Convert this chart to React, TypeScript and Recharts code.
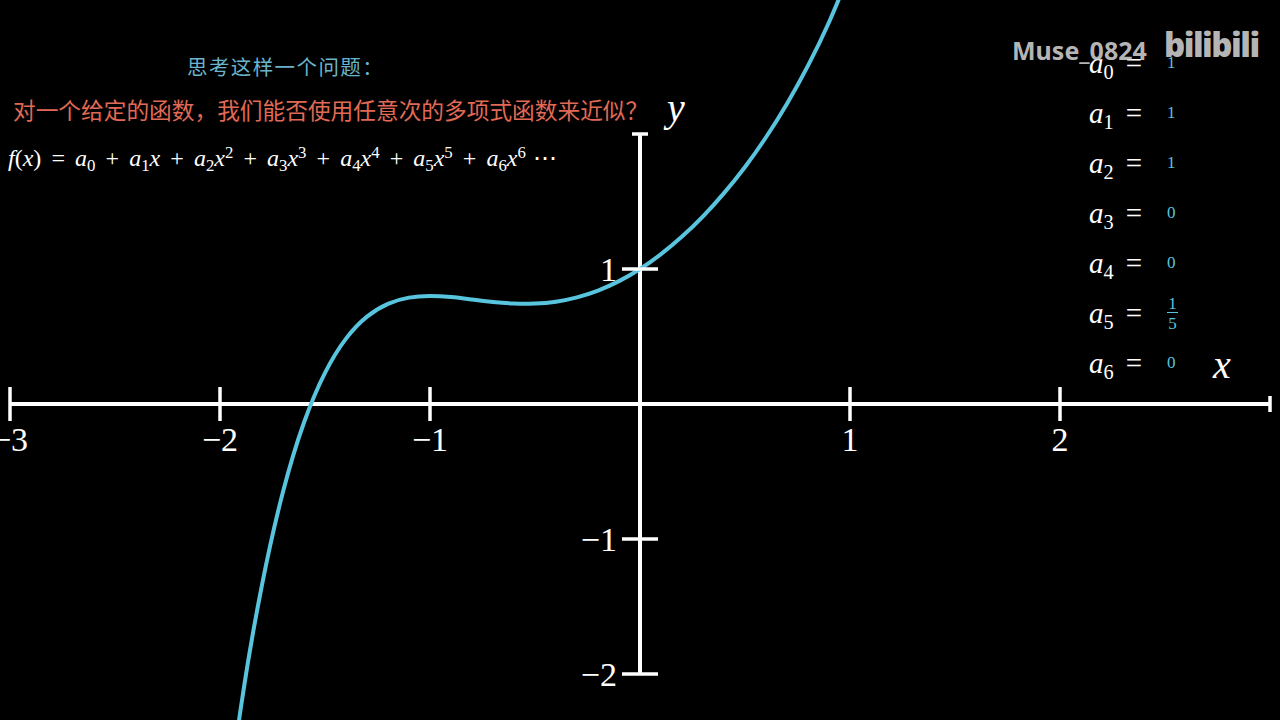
import React from 'react';
import { ComposedChart, Line, XAxis, YAxis, ReferenceLine, ReferenceDot } from 'recharts';

// Curve values (x, y)
const curveX = [-2.0, -1.9, -1.8, -1.7, -1.6, -1.5, -1.4, -1.3, -1.2, -1.1, -1.0, -0.9, -0.8, -0.7, -0.6, -0.5, -0.4, -0.3, -0.2, -0.1, 0.0, 0.1, 0.2, 0.3, 0.4, 0.5, 0.6, 0.7, 0.8, 0.9, 1.0];
const curveY = [-3.4, -2.242, -1.339, -0.650, -0.137, 0.231, 0.484, 0.647, 0.742, 0.788, 0.8, 0.792, 0.774, 0.756, 0.744, 0.744, 0.758, 0.790, 0.840, 0.910, 1.0, 1.110, 1.240, 1.390, 1.562, 1.756, 1.976, 2.224, 2.506, 2.828, 3.2];

const xTickValues = [-3, -2, -1, 1, 2];
const xTickLabels = ['\u22123', '\u22122', '\u22121', '1', '2'];
const yTickValues = [1, -1, -2];
const yTickLabels = ['1', '\u22121', '\u22122'];
const xEnd = 3;
const yEnd = 2;

const coefNames = ['0', '1', '2', '3', '4', '5', '6'];
const coefValues = ['1', '1', '1', '0', '0', '1/5', '0'];

const titleText = '思考这样一个问题：';
const questionText = '对一个给定的函数，我们能否使用任意次的多项式函数来近似？';
const watermarkText = 'Muse_0824';
const logoText = 'bilibili';

const data = curveX.map((x, i) => ({ x, y: curveY[i] }));

const W = 1280;
const H = 720;
const BLUE = '#58C4DD';
const SERIF = '"Liberation Serif", "DejaVu Serif", serif';

const XTickShape = (label: string, big: boolean) => (p: any) => {
  const { cx, cy } = p;
  const h = big ? 17 : 8;
  return (
    <g>
      <line x1={cx} x2={cx} y1={cy - h} y2={cy + h} stroke="#fff" strokeWidth={3.5} />
      {label ? (
        <text x={cx} y={cy + 47} textAnchor="middle" fill="#fff" fontSize={34} fontFamily={SERIF}>{label}</text>
      ) : null}
    </g>
  );
};

const YTickShape = (label: string, big: boolean) => (p: any) => {
  const { cx, cy } = p;
  const h = big ? 18 : 8;
  return (
    <g>
      <line x1={cx - h} x2={cx + h} y1={cy} y2={cy} stroke="#fff" strokeWidth={3.5} />
      {label ? (
        <text x={cx - 23} y={cy + 12} textAnchor="end" fill="#fff" fontSize={34} fontFamily={SERIF}>{label}</text>
      ) : null}
    </g>
  );
};

const Sub = ({ children }: { children: React.ReactNode }) => (
  <span style={{ fontSize: '0.7em', position: 'relative', top: '0.3em', fontStyle: 'normal' }}>{children}</span>
);
const Sup = ({ children }: { children: React.ReactNode }) => (
  <span style={{ fontSize: '0.7em', position: 'relative', top: '-0.45em', fontStyle: 'normal' }}>{children}</span>
);

const Formula = () => {
  const terms: React.ReactNode[] = [];
  for (let i = 0; i <= 6; i++) {
    terms.push(
      <span key={i}>
        {i > 0 ? <span style={{ margin: '0 0.42em' }}>+</span> : null}
        <i>a</i><Sub>{i}</Sub>
        {i >= 1 ? <i>x</i> : null}
        {i >= 2 ? <Sup>{i}</Sup> : null}
      </span>
    );
  }
  return (
    <div style={{ position: 'absolute', left: 8, top: 144, fontFamily: SERIF, fontSize: 24, color: '#fff', whiteSpace: 'nowrap' }}>
      <i>f</i>(<i>x</i>)<span style={{ margin: '0 0.42em' }}>=</span>
      {terms}
      <span style={{ marginLeft: '0.3em' }}>⋯</span>
    </div>
  );
};

const CoefValue = ({ v }: { v: string }) => {
  if (v.includes('/')) {
    const [n, d] = v.split('/');
    return (
      <span style={{ display: 'inline-flex', flexDirection: 'column', alignItems: 'center', fontFamily: SERIF, fontSize: 17, lineHeight: '17px', color: BLUE, verticalAlign: 'middle' }}>
        <span>{n}</span>
        <span style={{ borderTop: `1.5px solid ${BLUE}`, width: 11, paddingTop: 2, textAlign: 'center' }}>{d}</span>
      </span>
    );
  }
  return <span style={{ fontFamily: SERIF, fontSize: 17, color: BLUE }}>{v}</span>;
};

export default function App() {
  return (
    <div style={{ position: 'absolute', left: 0, top: 0, width: W, height: H, background: '#000', overflow: 'hidden' }}>
      <div style={{ position: 'absolute', left: 0, top: 0 }}>
        <ComposedChart width={W} height={H} data={data} margin={{ top: 0, right: 0, bottom: 0, left: 0 }}>
          <XAxis dataKey="x" type="number" domain={[-640 / 210, 640 / 210]} hide allowDataOverflow />
          <YAxis type="number" domain={[-316 / 135, 404 / 135]} hide allowDataOverflow />
          <ReferenceLine segment={[{ x: -3, y: 0 }, { x: 3, y: 0 }]} stroke="#fff" strokeWidth={4} ifOverflow="visible" />
          <ReferenceLine segment={[{ x: 0, y: -2 }, { x: 0, y: 2 }]} stroke="#fff" strokeWidth={4} ifOverflow="visible" />
          {xTickValues.map((v, i) => (
            <ReferenceDot key={'xt' + i} x={v} y={0} r={0} ifOverflow="visible" shape={XTickShape(xTickLabels[i], true)} />
          ))}
          <ReferenceDot x={xEnd} y={0} r={0} ifOverflow="visible" shape={XTickShape('', false)} />
          {yTickValues.map((v, i) => (
            <ReferenceDot key={'yt' + i} x={0} y={v} r={0} ifOverflow="visible" shape={YTickShape(yTickLabels[i], true)} />
          ))}
          <ReferenceDot x={0} y={yEnd} r={0} ifOverflow="visible" shape={YTickShape('', false)} />
          <Line dataKey="y" type="natural" stroke={BLUE} strokeWidth={4} dot={false} isAnimationActive={false} />
        </ComposedChart>
      </div>

      {/* Axis names */}
      <div style={{ position: 'absolute', left: 667, top: 84, fontFamily: SERIF, fontStyle: 'italic', fontSize: 40, color: '#fff' }}>y</div>
      <div style={{ position: 'absolute', left: 1213, top: 341, fontFamily: SERIF, fontStyle: 'italic', fontSize: 40, color: '#fff' }}>x</div>

      {/* Texts */}
      <div style={{ position: 'absolute', left: 187, top: 52, fontFamily: '"Noto Sans CJK SC", sans-serif', fontSize: 20.5, letterSpacing: 1.4, color: '#6ab4cc', whiteSpace: 'nowrap', lineHeight: '28px' }}>{titleText}</div>
      <div style={{ position: 'absolute', left: 13, top: 95, fontFamily: '"Noto Sans CJK SC", sans-serif', fontSize: 22.7, color: '#e06a55', whiteSpace: 'nowrap', lineHeight: '30px' }}>{questionText}</div>
      <Formula />

      {/* Coefficients */}
      {coefNames.map((n, i) => (
        <div key={n} style={{ position: 'absolute', left: 1089, top: 45 + i * 50, height: 36, display: 'flex', alignItems: 'center', whiteSpace: 'nowrap' }}>
          <span style={{ fontFamily: SERIF, fontSize: 29, color: '#fff', width: 78, display: 'inline-block' }}>
            <i>a</i><Sub>{n}</Sub><span style={{ marginLeft: 12 }}>=</span>
          </span>
          <CoefValue v={coefValues[i]} />
        </div>
      ))}

      {/* Watermark */}
      <div style={{ position: 'absolute', left: 1012, top: 33, fontFamily: '"Noto Sans", "DejaVu Sans", sans-serif', fontWeight: 700, fontSize: 25, color: 'rgba(215,215,215,0.85)', whiteSpace: 'nowrap' }}>{watermarkText}</div>
      <div style={{ position: 'absolute', left: 1164, top: 22, fontFamily: '"Noto Sans", "DejaVu Sans", sans-serif', fontWeight: 900, fontSize: 33, letterSpacing: -1.5, color: 'rgba(215,215,215,0.85)', whiteSpace: 'nowrap' }}>{logoText}</div>
    </div>
  );
}
